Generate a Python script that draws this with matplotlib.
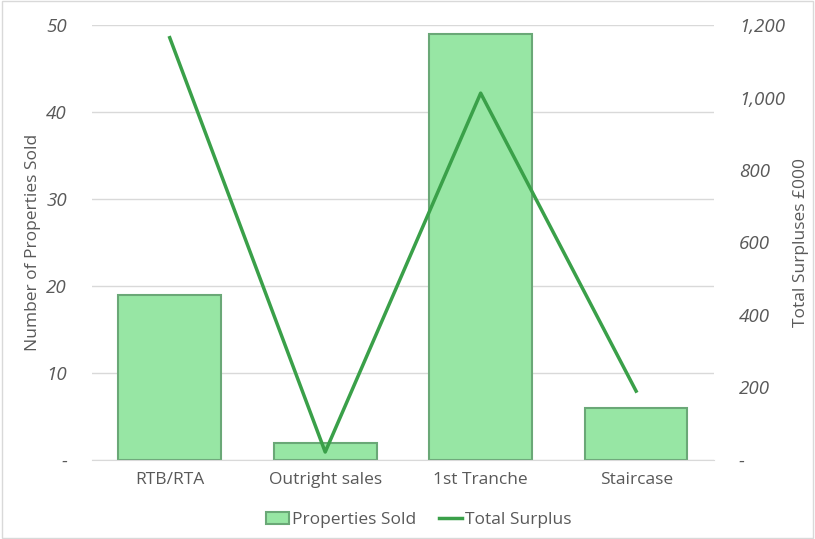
import numpy as np
import matplotlib.pyplot as plt
from matplotlib.ticker import FuncFormatter
from matplotlib.lines import Line2D
from matplotlib.patches import Patch

categories = ["RTB/RTA", "Outright sales", "1st Tranche", "Staircase"]
properties_sold = [19, 2, 49, 6]
total_surplus = [1165, 22, 1012, 190]

plt.rcParams['font.family'] = ['Open Sans', 'DejaVu Sans']
grey = '#595959'

fig = plt.figure(figsize=(8.15, 5.39), dpi=100)
ax = fig.add_axes([0.1129, 0.1466, 0.763, 0.807])
ax2 = ax.twinx()

x = np.arange(len(categories))
ax.bar(x, properties_sold, width=0.66, color='#97e6a4', edgecolor='#6aa877',
       linewidth=1.5, zorder=2)
ax2.plot(x, total_surplus, color='#3aa049', linewidth=2.5, zorder=3)

ax.set_xlim(-0.5, 3.5)
ax.set_ylim(0, 50)
ax2.set_ylim(0, 1200)
ax.set_yticks(range(0, 51, 10))
ax2.set_yticks(range(0, 1201, 200))
ax.yaxis.set_major_formatter(FuncFormatter(lambda v, p: '-' if v == 0 else f'{v:,.0f}'))
ax2.yaxis.set_major_formatter(FuncFormatter(lambda v, p: '-' if v == 0 else f'{v:,.0f}'))

ax.set_xticks(x)
ax.set_xticklabels(categories, fontsize=12.5, color=grey)
ax.grid(axis='y', color='#d9d9d9', linewidth=1, zorder=0)
ax.set_axisbelow(True)

for a in (ax, ax2):
    for s in a.spines.values():
        s.set_visible(False)
    a.tick_params(length=0)
ax.spines['bottom'].set_visible(True)
ax.spines['bottom'].set_color('#d9d9d9')

for lab in ax.get_yticklabels() + ax2.get_yticklabels():
    lab.set_fontstyle('italic')
    lab.set_fontsize(13.5)
    lab.set_color(grey)
ax.tick_params(axis='y', pad=18)
ax2.tick_params(axis='y', pad=18)
ax.tick_params(axis='x', pad=9)

ax.set_ylabel("Number of Properties Sold", fontsize=12.5, color=grey, labelpad=4)
ax2.set_ylabel("Total Surpluses £000", fontsize=12.5, color=grey, labelpad=6)

handles = [Patch(facecolor='#97e6a4', edgecolor='#6aa877', linewidth=1.5),
           Line2D([0], [0], color='#3aa049', linewidth=2.5)]
fig.legend(handles, ["Properties Sold", "Total Surplus"], loc='center',
           bbox_to_anchor=(0.514, 0.035), ncol=2, frameon=False, fontsize=12.5,
           handlelength=1.3, handletextpad=0.2, columnspacing=1.3,
           labelcolor=grey)

fig.patches.append(plt.Rectangle((0.002, 0.002), 0.996, 0.996, transform=fig.transFigure,
                                 fill=False, edgecolor='#d9d9d9', linewidth=1))

fig.savefig("out.png", dpi=100)
